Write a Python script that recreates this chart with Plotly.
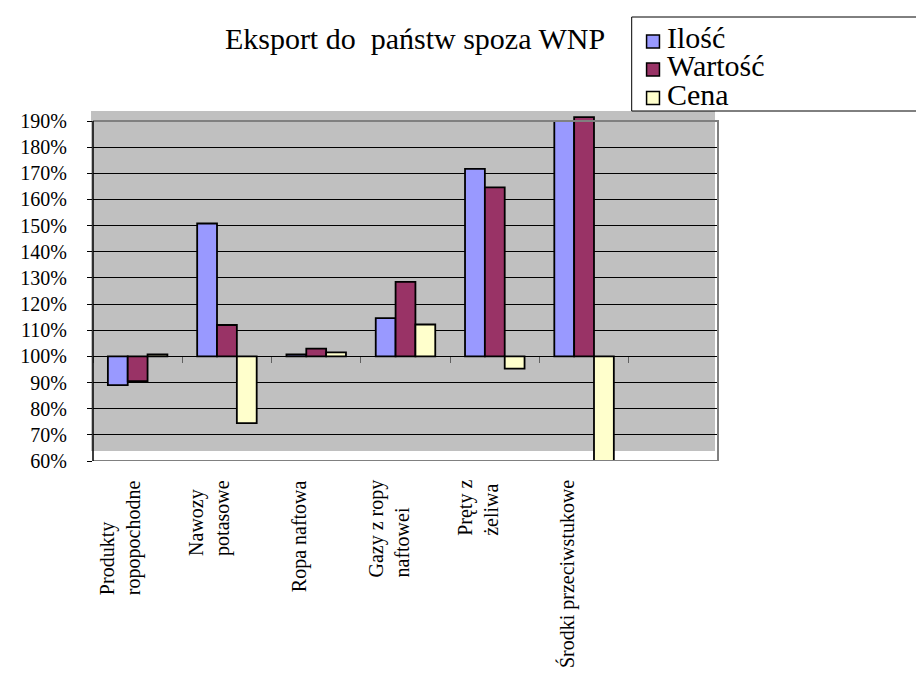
import plotly.graph_objects as go

# ---------------- data ----------------
categories = ["Produkty<br>ropopochodne", "Nawozy<br>potasowe", "Ropa naftowa",
              "Gazy z ropy<br>naftowei", "Pręty z<br>żeliwa", "Środki przeciwstukowe"]
series_names = ["Ilość", "Wartość", "Cena"]
ilosc = [89.0, 150.8, 100.8, 114.6, 171.7, 190.0]
wartosc = [90.5, 112.0, 103.0, 128.5, 164.6, 191.5]
cena = [100.8, 74.5, 101.5, 112.2, 95.3, 60.0]
series_values = [ilosc, wartosc, cena]
y_ticks = list(range(60, 191, 10))
y_tick_labels = [f"{v}%" for v in y_ticks]
baseline = 100          # horizontal axis crosses at 100%
n_slots = 7             # six categories plus one empty slot

# ---------------- styles ----------------
series_colors = ["#9999FF", "#993366", "#FFFFCC"]
FONT = "Liberation Serif, Times New Roman, serif"
W, H = 924, 676
ML, MR, MT, MB = 80, 214, 103, 223      # plot area incl. 10px headroom above 190%
PW, PH = W - ML - MR, H - MT - MB
y_min, y_max = y_ticks[0], y_ticks[-1]
core_h = PH - 10                         # pixels between 60% and 190%
y_top = y_max + 10 * (y_max - y_min) / core_h


def px(x):
    return (x - ML) / PW


def py(y):
    return (H - MB - y) / PH


fig = go.Figure()
x_idx = list(range(len(categories)))
for name, vals, col in zip(series_names, series_values, series_colors):
    fig.add_trace(go.Bar(
        x=x_idx, y=[v - baseline for v in vals], base=baseline,
        name=name, marker=dict(color=col, line=dict(color="black", width=1.8)),
        customdata=vals, hovertemplate=name + ": %{customdata}%<extra></extra>",
        showlegend=False,
    ))

shapes = [
    # gray plot area (slightly offset like the original)
    dict(type="rect", xref="paper", yref="paper", x0=px(78), x1=px(707),
         y0=py(443), y1=py(103), fillcolor="#C0C0C0", line=dict(width=0), layer="below"),
    # gray frame: top, right, bottom
    dict(type="path", xref="paper", yref="y",
         path=f"M0,{y_max} L1,{y_max} L1,{y_min} L0,{y_min}",
         line=dict(color="#808080", width=2), layer="above"),
    # value axis line
    dict(type="line", xref="paper", yref="y", x0=0, x1=0, y0=y_min, y1=y_max,
         line=dict(color="black", width=1.5), layer="above"),
    # legend box
    dict(type="rect", xref="paper", yref="paper", x0=px(623), x1=px(922),
         y0=py(103), y1=py(9), fillcolor="white", line=dict(color="black", width=1)),
]

annotations = []
# category labels
for i, lab in enumerate(categories):
    annotations.append(dict(
        x=i, xref="x", y=py(470), yref="paper", text=lab, showarrow=False,
        textangle=-90, align="left", xanchor="center", yanchor="top", xshift=-17,
        font=dict(family=FONT, size=20, color="black")))

# legend entries
row_centers = [33.5, 61.5, 90.0]
for name, col, yc in zip(series_names, series_colors, row_centers):
    shapes.append(dict(type="rect", xref="paper", yref="paper", x0=px(638), x1=px(651),
                       y0=py(yc + 6.5), y1=py(yc - 6.5), fillcolor=col,
                       line=dict(color="black", width=1.5)))
    annotations.append(dict(x=px(657), y=py(yc - 4), xref="paper", yref="paper",
                            text=name, showarrow=False, xanchor="left", yanchor="middle",
                            font=dict(family=FONT, size=30, color="black")))

fig.update_layout(
    width=W, height=H, autosize=False,
    margin=dict(l=ML, r=MR, t=MT, b=MB, pad=0),
    paper_bgcolor="white", plot_bgcolor="rgba(0,0,0,0)",
    font=dict(family=FONT, color="black"),
    barmode="group", bargap=1 / 3, bargroupgap=0,
    title=dict(text="Eksport do\u00a0 państw spoza WNP", xref="container", yref="container",
               x=407 / W, xanchor="center", y=1 - 30 / H, yanchor="middle",
               font=dict(family=FONT, size=30, color="black")),
    xaxis=dict(range=[-0.5, n_slots - 0.5], tickvals=[i - 0.5 for i in range(n_slots + 1)],
               ticks="outside", ticklen=6, tickcolor="#606060", tickwidth=1,
               showticklabels=False, showline=True, linecolor="black", linewidth=1,
               showgrid=False, zeroline=False, anchor="free",
               position=(baseline - y_min) / (y_top - y_min)),
    yaxis=dict(range=[y_min, y_top], tickvals=y_ticks, ticktext=y_tick_labels,
               showgrid=True, gridcolor="black", gridwidth=1, zeroline=False,
               showline=False, ticks="outside", ticklen=5, tickcolor="black",
               ticklabelstandoff=16,
               tickfont=dict(family=FONT, size=20, color="black")),
    shapes=shapes, annotations=annotations, showlegend=False,
)

fig.write_html("out.html")
